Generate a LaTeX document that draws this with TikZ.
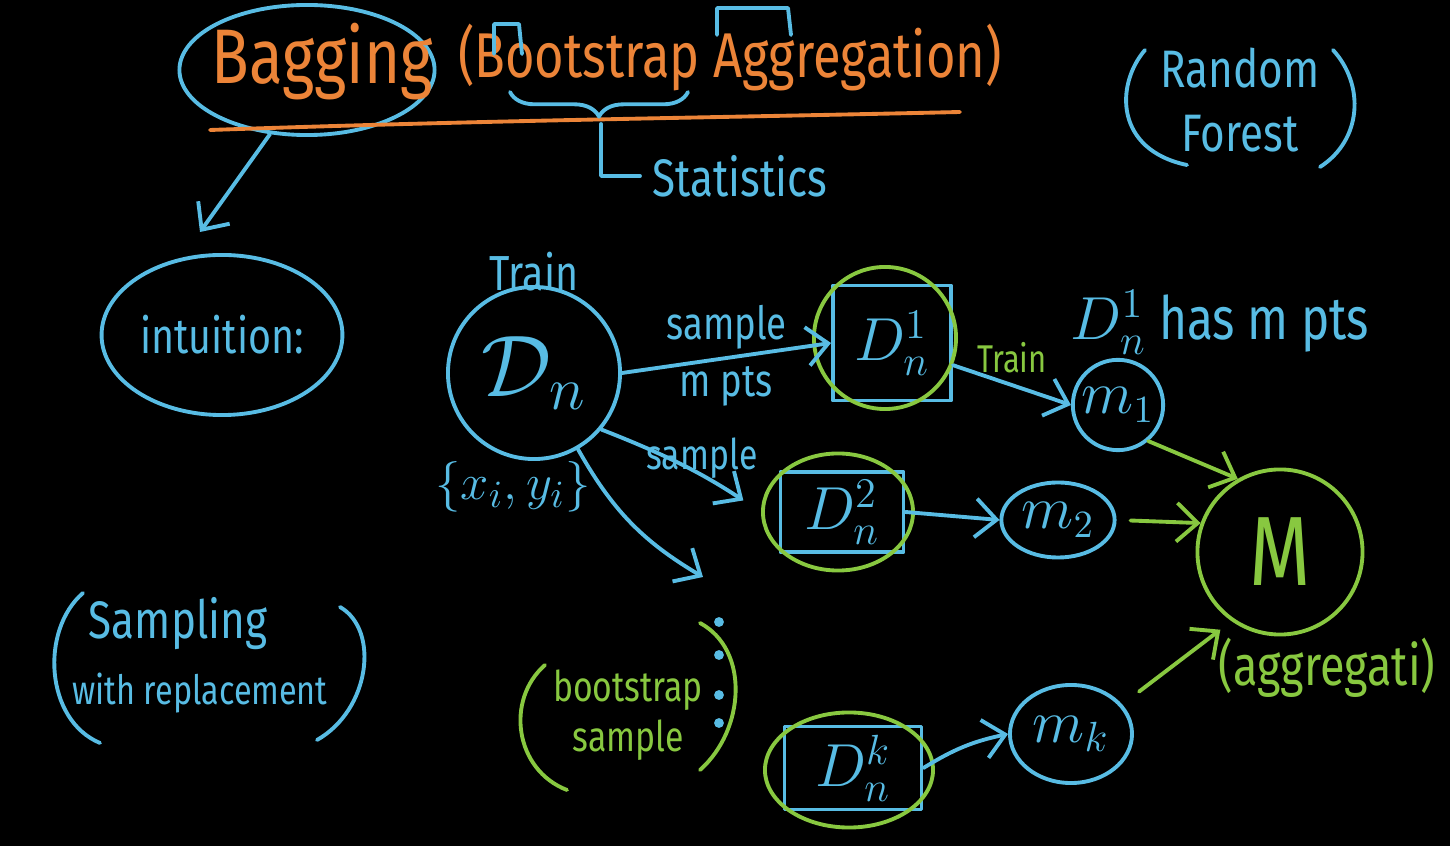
\documentclass[tikz,border=0pt]{standalone}
\usepackage{amsmath}
\usepackage{fontspec}
\setmainfont{Fira Sans}
\newfontfamily\hand[FakeStretch=0.8]{Fira Sans}
\usetikzlibrary{arrows.meta,positioning,shapes.geometric,decorations.pathreplacing}
\definecolor{chalkblue}{RGB}{88,188,228}
\definecolor{chalkorange}{RGB}{236,132,56}
\definecolor{chalkgreen}{RGB}{136,200,64}
\tikzset{
  hw/.style={font=\hand\fontsize{#1}{1.2\dimexpr#1pt\relax}\selectfont},
  mth/.style={font=\fontsize{#1}{#1}\selectfont},
  pen/.style={line width=1.1pt,line cap=round,line join=round},
  bluev/.style={pen,draw=chalkblue,text=chalkblue},
  greenv/.style={pen,draw=chalkgreen,text=chalkgreen},
  circv/.style={circle,inner sep=1pt},
  ovalv/.style={ellipse,inner sep=1pt},
  boxv/.style={rectangle,inner sep=1pt},
  lbl/.style={inner sep=1pt},
  arr/.style={pen,-{Straight Barb[length=6pt,width=11pt]}},
}

\begin{document}
\begin{tikzpicture}[x=0.01cm,y=-0.01cm]
  \fill[black] (0,0) rectangle (1450,846);
  \useasboundingbox (0,0) rectangle (1450,846);

  % title
  \node[bluev,ovalv,minimum width=2.55cm,minimum height=1.3cm] (bagov) at (307,70) {};
  \node[hw=22,text=chalkorange] (bag) at (322,62) {Bagging};
  \node[hw=18,text=chalkorange] (bsagg) at (730,58) {(Bootstrap Aggregation)};
  \draw[pen,chalkorange] (210,130) .. controls (500,120) and (700,118) .. (960,112);
  \draw[pen,chalkblue] (494,54) -- (494,24) -- (519,24) -- (522,54);
  \draw[pen,chalkblue] (717,35) -- (717,8) -- (788,8) -- (791,35);
  \draw[pen,chalkblue,decorate,decoration={brace,mirror,amplitude=7pt}] (510,92) -- (688,92);
  \coordinate (bracetip) at (601,124);
  \node[hw=15,text=chalkblue,anchor=west] (stat) at (640,176) {Statistics};
  \draw[pen,chalkblue] (bracetip) |- (stat.west);

  \node[hw=15,text=chalkblue,align=center] (rf) at (1240,100) {Random\\Forest};
  \draw[pen,chalkblue] (1145,50) .. controls (1115,85) and (1115,150) .. (1187,165);
  \draw[pen,chalkblue] (1333,50) .. controls (1365,85) and (1362,140) .. (1320,167);

  % intuition
  \coordinate (intuin) at (200,232);
  \node[bluev,ovalv,hw=14,minimum width=2.3cm,minimum height=1.6cm] (intu) at (222,335) {intuition:};
  \draw[arr,chalkblue] (bagov.240) -- (intuin);

  \node[hw=15,text=chalkblue] (smp) at (178,624) {Sampling};
  \node[hw=11.5,text=chalkblue] (repl) at (200,693) {with replacement};
  \draw[pen,chalkblue] (83,593) .. controls (40,630) and (45,720) .. (100,743);
  \draw[pen,chalkblue] (340,607) .. controls (380,630) and (370,710) .. (317,740);

  % data set
  \node[bluev,circv,minimum size=1.72cm,mth=26] (dn) at (534,373) {$\mathcal{D}_n$};
  \node[hw=14,text=chalkblue,lbl,above=-3pt of dn] (dntrain) {Train};
  \node[mth=15,text=chalkblue] (xy) at (513,487) {$\{x_i,y_i\}$};

  % bootstrap samples
  \node[bluev,boxv,minimum width=1.18cm,minimum height=1.15cm,mth=17] (d1) at (892,343) {$D_n^1$};
  \node[greenv,circv,minimum size=1.42cm] (d1c) at (885,338) {};
  \node[bluev,boxv,minimum width=1.23cm,minimum height=0.8cm,mth=17] (d2) at (842,512) {$D_n^2$};
  \node[greenv,ovalv,minimum width=1.5cm,minimum height=1.17cm] (d2c) at (838,512) {};
  \node[bluev,boxv,minimum width=1.37cm,minimum height=0.83cm,mth=17] (dk) at (853,768) {$D_n^k$};
  \node[greenv,ovalv,minimum width=1.68cm,minimum height=1.15cm] (dkc) at (849,770) {};

  \draw[arr,chalkblue] (dn.east) -- (d1.west)
    node[hw=13,text=chalkblue,lbl,midway,above=1pt] (s1) {sample}
    node[hw=13,text=chalkblue,lbl,midway,below=1pt] (mp) {m pts};
  \draw[arr,chalkblue,shorten >=6pt] (dn.-40) to[bend left=6] (d2c.west);
  \node[hw=12,text=chalkblue] (s2) at (702,458) {sample};
  \coordinate (dotsin) at (703,577);
  \draw[arr,chalkblue] (dn.-60) to[bend right=15] (dotsin);
  \foreach \yy in {622,655,695,723}
    \fill[chalkblue] (719,\yy) circle (1.4pt);

  \node[hw=12,text=chalkgreen,align=center] (bss) at (628,715) {bootstrap\\sample};
  \draw[pen,chalkgreen] (545,665) .. controls (505,700) and (515,770) .. (567,790);
  \draw[pen,chalkgreen] (700,623) .. controls (750,650) and (745,730) .. (700,770);

  \node[hw=17,text=chalkblue] (note) at (1220,322) {$D_n^1$ has m pts};

  % models
  \node[bluev,circv,minimum size=0.84cm,mth=16] (m1) at (1118,405) {$m_1$};
  \node[bluev,ovalv,minimum width=1.05cm,minimum height=0.75cm,mth=16] (m2) at (1058,520) {$m_2$};
  \node[bluev,ovalv,minimum width=1.22cm,minimum height=0.98cm,mth=17] (mk) at (1071,734) {$m_k$};

  \draw[arr,chalkblue] (d1.-20) -- (m1.west)
    node[hw=11,text=chalkgreen,lbl,midway,above=2pt] (t1) {Train};
  \draw[arr,chalkblue] (d2.east) -- (m2.west);
  \draw[arr,chalkblue] (dk.east) to[bend left=10] (mk.west);

  % aggregate
  \node[greenv,circv,minimum size=1.65cm,hw=28] (bigm) at (1280,552) {M};
  \node[hw=16,text=chalkgreen] (aggr) at (1327,668) {(aggregati)};
  \draw[arr,chalkgreen] (m1.-50) -- (bigm.120);
  \draw[arr,chalkgreen,shorten <=4pt] (m2.east) -- (bigm.160);
  \draw[arr,chalkgreen,shorten <=6pt,shorten >=4pt] (mk.30) -- (bigm.235);
\end{tikzpicture}
\end{document}
